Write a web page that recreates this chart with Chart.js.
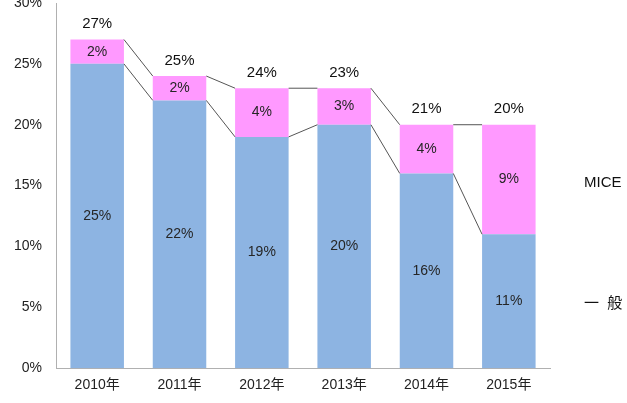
<!DOCTYPE html>
<html>
<head>
<meta charset="utf-8">
<script src="https://cdn.jsdelivr.net/npm/chart.js@4"></script>
<style>
  html, body { margin: 0; padding: 0; background: #fff; }
  #wrap { width: 627px; height: 403px; }
</style>
</head>
<body>
<div id="wrap"><canvas id="shareChart"></canvas></div>
<script>
var years = ['2010年', '2011年', '2012年', '2013年', '2014年', '2015年'];
var general = [25, 22, 19, 20, 16, 11];
var mice = [2, 2, 4, 3, 4, 9];
var totals = [27, 25, 24, 23, 21, 20];
var seriesNames = ['一  般', 'MICE'];

var fontFam = "'Liberation Sans', 'Noto Sans CJK JP', sans-serif";

// series lines between bars, segment labels, totals and side labels
var extras = {
    id: 'extras',
    afterDatasetsDraw: function(chart) {
        var c = chart.ctx;
        c.save();
        // connecting lines
        c.strokeStyle = '#555';
        c.lineWidth = 1;
        [0, 1].forEach(function(di) {
            var meta = chart.getDatasetMeta(di);
            for (var i = 0; i < meta.data.length - 1; i++) {
                var a = meta.data[i], b = meta.data[i + 1];
                c.beginPath();
                c.moveTo(a.x + a.width / 2, a.y);
                c.lineTo(b.x - b.width / 2, b.y);
                c.stroke();
            }
        });
        // values inside segments
        c.fillStyle = '#262626';
        c.font = '14px ' + fontFam;
        c.textAlign = 'center';
        c.textBaseline = 'middle';
        [0, 1].forEach(function(di) {
            var meta = chart.getDatasetMeta(di);
            var vals = chart.data.datasets[di].data;
            meta.data.forEach(function(bar, i) {
                c.fillText(vals[i] + '%', bar.x, (bar.y + bar.base) / 2);
            });
        });
        // totals above bars
        c.fillStyle = '#111';
        c.font = '15px ' + fontFam;
        c.textBaseline = 'bottom';
        var top = chart.getDatasetMeta(1);
        top.data.forEach(function(bar, i) {
            c.fillText(totals[i] + '%', bar.x, bar.y - 8);
        });
        // side labels beside last bar
        c.font = '15px ' + fontFam;
        c.textAlign = 'left';
        c.textBaseline = 'middle';
        [0, 1].forEach(function(di) {
            var meta = chart.getDatasetMeta(di);
            var last = meta.data[meta.data.length - 1];
            c.fillText(seriesNames[di], 584, (last.y + last.base) / 2 + 3);
        });
        c.restore();
    }
};

var ctx = document.getElementById('shareChart').getContext('2d');
var shareChart = new Chart(ctx, {
    type: 'bar',
    data: {
        labels: years,
        datasets: [{
            label: seriesNames[0],
            data: general,
            backgroundColor: '#8DB4E2',
            barPercentage: 0.65,
            categoryPercentage: 1
        }, {
            label: seriesNames[1],
            data: mice,
            backgroundColor: '#FF99FF',
            barPercentage: 0.65,
            categoryPercentage: 1
        }]
    },
    options: {
        responsive: true,
        maintainAspectRatio: false,
        animation: false,
        layout: {
            padding: { top: 3, right: 77, left: 0, bottom: 0 }
        },
        plugins: {
            legend: { display: false },
            tooltip: { enabled: false }
        },
        scales: {
            x: {
                stacked: true,
                grid: { display: false, drawTicks: false },
                border: { color: '#b0b0b0', width: 1 },
                ticks: {
                    color: '#222',
                    font: { size: 14, family: fontFam },
                    padding: 9
                }
            },
            y: {
                stacked: true,
                min: 0,
                max: 30,
                grid: { display: false, drawTicks: false },
                border: { color: '#b0b0b0', width: 1 },
                ticks: {
                    stepSize: 5,
                    color: '#222',
                    font: { size: 14, family: fontFam },
                    padding: 14,
                    callback: function(v) { return v + '%'; }
                },
                afterFit: function(s) { s.paddingTop = 0; }
            }
        }
    },
    plugins: [extras]
});
</script>
</body>
</html>
